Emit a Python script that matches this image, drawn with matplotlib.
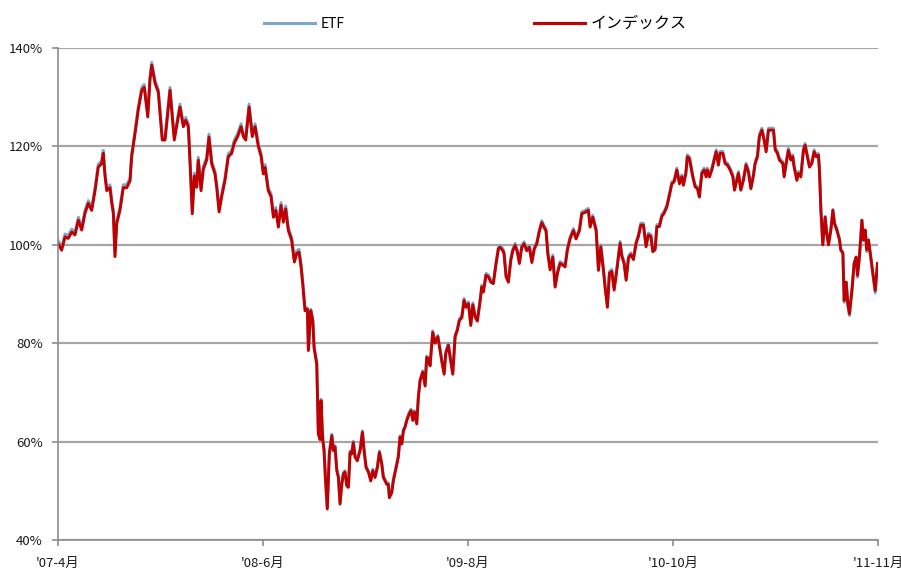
import matplotlib
matplotlib.use('Agg')
import matplotlib.pyplot as plt

plt.rcParams['font.family'] = ['Noto Sans CJK JP', 'DejaVu Sans']

# months since 2007-04, values in % (start = 100)
months = [
    0.00, 0.25, 0.48, 0.70, 0.94, 1.16, 1.39, 1.62, 1.84, 2.07, 2.30, 2.53, 2.75, 2.98, 3.09,
    3.21, 3.33, 3.55, 3.67, 3.78, 3.89, 4.01, 4.23, 4.46, 4.69, 4.92, 5.03, 5.26, 5.48, 5.72,
    5.89, 6.13, 6.28, 6.40, 6.63, 6.85, 7.12, 7.31, 7.65, 7.94, 8.33, 8.56, 8.72, 8.90, 9.02,
    9.17, 9.31, 9.47, 9.58, 9.77, 9.92, 10.16, 10.31, 10.50, 10.72, 10.84, 11.00, 11.18, 11.41, 11.63,
    11.86, 12.04, 12.27, 12.50, 12.66, 12.82, 13.05, 13.27, 13.46, 13.68, 13.87, 14.02, 14.14, 14.36, 14.55,
    14.71, 14.87, 15.05, 15.23, 15.39, 15.55, 15.73, 15.96, 16.14, 16.30, 16.46, 16.60, 16.71, 16.87,
    17.03, 17.10, 17.26, 17.40, 17.49, 17.67, 17.78, 17.90, 17.96, 18.08, 18.17, 18.26, 18.39, 18.53, 18.70,
    18.80, 18.92, 19.04, 19.15, 19.26, 19.38, 19.49, 19.60, 19.72, 19.83, 19.95, 20.06, 20.17, 20.29, 20.44,
    20.63, 20.79, 20.90, 21.04, 21.20, 21.36, 21.50, 21.65, 21.81, 21.95, 22.11, 22.22, 22.34, 22.45, 22.56,
    22.63, 22.79, 22.90, 23.14, 23.24, 23.36, 23.48, 23.59, 23.70, 23.82, 23.98, 24.11, 24.23, 24.34, 24.50,
    24.61, 24.73, 24.91, 25.07, 25.18, 25.29, 25.41, 25.59, 25.75, 25.94, 26.09, 26.21,
    26.37, 26.48, 26.66, 26.78, 26.96, 27.12, 27.27, 27.41, 27.58, 27.73, 27.87, 28.03, 28.19, 28.33, 28.48,
    28.64, 28.83, 28.94, 29.05, 29.23, 29.39, 29.56, 29.73, 29.92, 30.08, 30.19, 30.38, 30.46, 30.60, 30.76,
    30.92, 31.06, 31.22, 31.37, 31.51, 31.67, 31.83, 32.01, 32.19, 32.36, 32.53, 32.70, 32.88, 33.04, 33.20,
    33.33, 33.45, 33.61, 33.79, 33.95, 34.11, 34.29, 34.47, 34.63, 34.79, 34.97, 35.20, 35.38, 35.61, 35.77,
    36.00, 36.22, 36.34, 36.52, 36.75, 36.91, 37.07, 37.25, 37.36, 37.52, 37.66, 37.82, 37.98, 38.16, 38.39,
    38.50, 38.66, 38.80, 38.96, 39.12, 39.30, 39.48, 39.64, 39.80, 39.98, 40.16, 40.32, 40.49, 40.62, 40.78,
    40.90, 41.07, 41.24, 41.39, 41.58, 41.76, 41.92, 42.08, 42.26, 42.44, 42.60, 42.71, 42.88, 42.98, 43.12,
    43.35, 43.51, 43.67, 43.80, 43.97, 44.13, 44.26, 44.35, 44.49, 44.65, 44.81, 44.95, 45.10, 45.22, 45.40,
    45.56, 45.72, 45.90, 46.09, 46.20, 46.36, 46.47, 46.63, 46.81, 46.99, 47.15, 47.32, 47.49, 47.61, 47.77,
    47.90, 48.07, 48.22, 48.36, 48.52, 48.68, 48.86, 48.98, 49.13, 49.27, 49.50, 49.59, 49.73, 49.88, 50.05,
    50.18, 50.27, 50.46, 50.57, 50.73, 50.91, 51.02, 51.18, 51.32, 51.48, 51.64, 51.78, 51.93, 52.00,
    52.10, 52.23, 52.39, 52.50, 52.62, 52.78, 52.92, 53.03, 53.19, 53.37, 53.46, 53.60, 53.69, 53.83, 53.94,
    54.05, 54.22, 54.37, 54.51, 54.60, 54.73, 54.90, 55.01, 55.12, 55.24, 55.35, 55.51, 55.65, 55.81, 55.96,
]

index_pct = [
    100.3, 98.9, 101.6, 101.3, 102.6, 102.0, 105.0, 103.0, 106.4, 108.4, 107.0, 111.0, 115.8, 116.5, 118.6,
    114.0, 111.0, 111.6, 108.5, 106.4, 97.6, 104.3, 107.0, 111.6, 111.6, 113.0, 117.9, 122.6, 127.4, 131.4,
    132.0, 126.0, 133.5, 136.5, 132.8, 131.0, 121.3, 121.3, 131.4, 121.3, 128.0, 124.0, 125.3, 124.0, 116.5,
    106.3, 114.0, 111.7, 117.2, 111.0, 115.3, 117.3, 121.9, 116.4, 114.4, 111.7, 106.7, 109.8, 113.2, 117.9,
    118.6, 120.7, 122.0, 124.0, 122.0, 121.3, 128.0, 122.0, 124.0, 120.0, 118.0, 114.4, 115.7, 111.0, 109.8,
    105.6, 107.0, 103.6, 108.0, 104.6, 107.3, 102.9, 100.9, 96.5, 98.2, 98.5, 95.5, 92.1, 86.6,
    86.9, 78.5, 86.6, 84.6, 79.0, 75.8, 61.5, 60.4, 68.3, 60.4, 58.2, 52.7, 46.3, 57.5, 61.2,
    58.2, 58.9, 54.1, 52.7, 47.3, 51.3, 53.4, 53.8, 51.0, 50.7, 57.8, 57.5, 59.8, 56.8, 56.1,
    58.2, 61.9, 58.2, 54.7, 53.8, 52.0, 54.1, 52.7, 54.7, 57.8, 55.4, 52.7, 52.0, 51.3, 51.3,
    48.6, 49.6, 52.0, 55.4, 56.8, 60.9, 59.5, 62.2, 62.9, 64.3, 65.6, 66.3, 64.3, 66.0, 63.6,
    69.0, 72.4, 74.1, 71.3, 77.1, 76.8, 75.4, 82.2, 80.0, 81.3, 78.6, 76.3,
    73.7, 77.9, 79.6, 77.1, 73.7, 81.3, 82.6, 84.6, 85.2, 88.7, 87.3, 88.0, 83.6, 87.8, 85.4,
    84.5, 88.6, 91.4, 90.4, 93.8, 93.5, 92.4, 92.1, 96.2, 99.2, 99.5, 98.8, 98.2, 93.5, 92.4,
    96.8, 98.8, 99.9, 98.5, 96.2, 99.5, 100.2, 98.8, 99.5, 96.4, 99.2, 100.2, 102.8, 104.5, 103.5,
    102.8, 98.2, 94.9, 97.5, 91.4, 94.2, 96.2, 95.9, 95.5, 99.0, 101.2, 102.9, 101.2, 102.9, 106.3,
    106.6, 107.0, 103.6, 105.6, 102.9, 94.8, 99.6, 94.8, 91.4, 87.3, 94.2, 94.6, 90.8, 94.8, 100.3,
    97.7, 96.2, 92.8, 97.3, 98.0, 97.0, 100.3, 101.7, 104.0, 104.0, 99.6, 102.0, 101.7, 98.6, 99.0,
    103.7, 103.7, 105.8, 106.4, 107.7, 110.1, 112.4, 112.8, 115.2, 112.4, 113.8, 112.1, 114.5, 117.9, 117.5,
    113.8, 111.8, 111.4, 109.7, 114.5, 115.2, 113.8, 115.2, 113.8, 115.2, 117.2, 118.9, 116.2, 118.6, 118.6,
    116.5, 116.2, 115.2, 113.8, 111.1, 113.1, 114.5, 111.1, 113.1, 116.2, 114.8, 111.4, 114.0, 116.5, 117.9,
    122.0, 123.3, 121.3, 118.9, 123.3, 123.3, 123.3, 119.3, 118.6, 117.2, 116.5, 113.8, 116.5, 119.2, 117.2,
    117.9, 115.8, 113.1, 114.5, 113.8, 119.2, 120.2, 117.9, 115.8, 116.5, 118.9, 117.9, 118.2, 115.2,
    107.0, 100.0, 105.6, 102.3, 100.0, 103.0, 107.0, 104.3, 103.0, 101.0, 98.9, 98.3, 88.7, 92.4, 88.0,
    86.0, 90.8, 96.2, 97.5, 93.8, 97.5, 105.0, 101.0, 103.0, 99.0, 101.0, 97.5, 94.2, 90.7, 96.2,
]

etf_pct = [
    100.9, 99.5, 102.2, 101.9, 103.2, 102.6, 105.6, 103.6, 107.0, 109.0, 107.6, 111.6, 116.4, 117.1, 119.2,
    114.6, 111.6, 112.2, 109.1, 107.0, 98.2, 104.9, 107.6, 112.2, 112.2, 113.6, 118.5, 123.2, 128.0, 132.0,
    132.6, 126.6, 134.1, 137.1, 133.4, 131.6, 121.9, 121.9, 132.0, 121.9, 128.6, 124.6, 125.9, 124.6, 117.1,
    106.9, 114.6, 112.3, 117.8, 111.6, 115.9, 117.9, 122.5, 117.0, 115.0, 112.3, 107.3, 110.4, 113.8, 118.5,
    119.2, 121.3, 122.6, 124.6, 122.6, 121.9, 128.6, 122.6, 124.6, 120.6, 118.6, 115.0, 116.3, 111.6, 110.4,
    106.2, 107.6, 104.2, 108.6, 105.2, 107.9, 103.5, 101.5, 97.1, 98.8, 99.1, 96.1, 92.7, 87.2,
    87.2, 78.8, 86.9, 84.9, 79.3, 76.1, 61.8, 60.7, 68.6, 60.7, 58.5, 53.0, 46.6, 57.8, 61.5,
    58.5, 59.2, 54.4, 53.0, 47.6, 51.6, 53.7, 54.1, 51.3, 51.0, 58.1, 57.8, 60.1, 57.1, 56.4,
    58.5, 62.2, 58.5, 55.0, 54.1, 52.3, 54.4, 53.0, 55.0, 58.1, 55.7, 53.0, 52.3, 51.6, 51.6,
    48.9, 49.9, 52.3, 55.7, 57.1, 61.2, 59.8, 62.5, 63.2, 64.6, 65.9, 66.6, 64.6, 66.3, 63.9,
    69.3, 72.7, 74.4, 71.6, 77.4, 77.1, 75.7, 82.5, 80.3, 81.6, 78.9, 76.6,
    74.1, 78.3, 80.0, 77.5, 74.1, 81.7, 83.0, 85.0, 85.6, 89.1, 87.7, 88.4, 84.0, 88.2, 85.8,
    84.9, 89.0, 91.8, 90.8, 94.2, 93.9, 92.8, 92.5, 96.6, 99.6, 99.9, 99.2, 98.6, 93.9, 92.8,
    97.2, 99.2, 100.3, 98.9, 96.6, 99.9, 100.6, 99.2, 99.9, 96.8, 99.6, 100.6, 103.2, 104.9, 103.9,
    103.2, 98.6, 95.3, 97.9, 91.8, 94.6, 96.6, 96.3, 95.9, 99.4, 101.6, 103.3, 101.6, 103.3, 106.7,
    107.0, 107.4, 104.0, 106.0, 103.3, 95.2, 100.0, 95.2, 91.8, 87.7, 94.6, 95.0, 91.2, 95.2, 100.7,
    98.1, 96.6, 93.2, 97.7, 98.4, 97.4, 100.7, 102.1, 104.4, 104.4, 100.0, 102.4, 102.1, 99.0, 99.4,
    104.1, 104.1, 106.2, 106.8, 108.1, 110.5, 112.8, 113.2, 115.6, 112.8, 114.2, 112.5, 114.9, 118.3, 117.9,
    114.2, 112.2, 111.8, 110.1, 114.9, 115.6, 114.2, 115.6, 114.2, 115.6, 117.6, 119.3, 116.6, 119.0, 119.0,
    116.9, 116.6, 115.6, 114.2, 111.5, 113.5, 114.9, 111.5, 113.5, 116.6, 115.2, 111.8, 114.4, 116.9, 118.3,
    122.4, 123.7, 121.7, 119.3, 123.7, 123.7, 123.7, 119.7, 119.0, 117.6, 116.9, 114.2, 116.9, 119.6, 117.6,
    118.3, 116.2, 113.5, 114.9, 114.2, 119.6, 120.6, 118.3, 116.2, 116.9, 119.3, 118.3, 118.6, 115.6,
    107.2, 100.2, 105.8, 102.5, 100.2, 103.2, 107.2, 104.5, 103.2, 101.2, 99.1, 98.5, 88.3, 92.4, 87.6,
    85.6, 90.6, 96.2, 97.5, 93.4, 97.5, 105.0, 100.8, 103.0, 98.6, 100.8, 97.1, 93.8, 90.2, 95.6,
]

tick_months = [0, 14, 28, 42, 56]
tick_labels = ["'07-4月", "'08-6月", "'09-8月", "'10-10月", "'11-11月"]
y_ticks = [40, 60, 80, 100, 120, 140]

etf_color = '#7ea6cc'
idx_color = '#c00000'
axis_gray = '#8c8c8c'

fig = plt.figure(figsize=(9.01, 5.70), dpi=100)
ax = fig.add_axes([58 / 901, 1 - 540 / 570, 820 / 901, 492 / 570])

l_etf, = ax.plot(months, etf_pct, color=etf_color, lw=2.1, solid_joinstyle='round')
l_idx, = ax.plot(months, index_pct, color=idx_color, lw=2.1, solid_joinstyle='round')

ax.set_xlim(0, 56)
ax.set_ylim(40, 140)
ax.set_xticks(tick_months)
ax.set_xticklabels(tick_labels, fontsize=9.5)
ax.set_yticks(y_ticks)
ax.set_yticklabels([f'{v}%' for v in y_ticks], fontsize=9.5)

ax.grid(axis='y', color='#a6a6a6', lw=1.6, zorder=0)
ax.set_axisbelow(True)
for s in ['top', 'right']:
    ax.spines[s].set_visible(False)
for s in ['left', 'bottom']:
    ax.spines[s].set_color(axis_gray)
    ax.spines[s].set_linewidth(1.2)
ax.tick_params(axis='both', colors=axis_gray, length=4, width=1.2, labelcolor='#1a1a1a')
ax.tick_params(axis='x', pad=8)
ax.tick_params(axis='y', pad=7)

leg = fig.legend([l_etf, l_idx], ['ETF', 'インデックス'], ncol=2,
                 loc='center left', bbox_to_anchor=(257 / 901, 1 - 23 / 570),
                 frameon=False, borderpad=0, fontsize=10,
                 handlelength=3.67, handletextpad=0.43, columnspacing=13.6)
for line in leg.get_lines():
    line.set_linewidth(2.2)
leg.get_texts()[1].set_fontsize(11.5)

fig.savefig('out.png', dpi=100)
